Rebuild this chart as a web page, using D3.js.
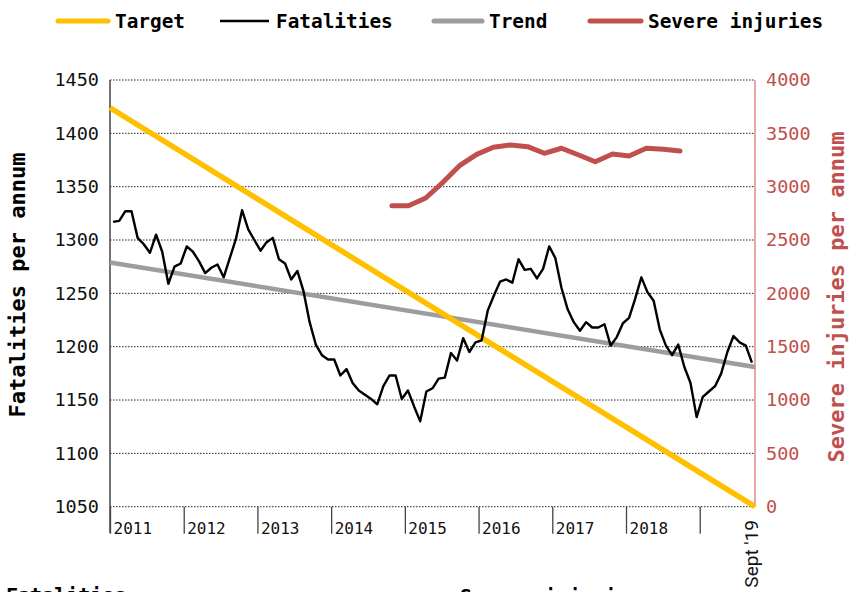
<!DOCTYPE html>
<html lang="en">
<head>
  <meta charset="UTF-8">
  <title>Fatalities and severe injuries</title>
  <style>
    html, body {
      margin: 0;
      padding: 0;
      background-color: white;
    }
    svg {
      display: block;
      font-family: 'DejaVu Sans Mono', monospace;
    }
  </style>
</head>
<body>
  <svg id="svg" width="850" height="592"></svg>
  <script src="https://d3js.org/d3.v7.min.js"></script>
  <script>
    // monthly fatalities per annum, Jan 2011 .. Sept 2019
    const fatalities = [
      1317, 1318, 1327, 1327, 1302, 1296, 1288, 1305, 1289, 1259, 1275, 1278,
      1294, 1289, 1280, 1269, 1274, 1277, 1265, 1283, 1301, 1328, 1310, 1300,
      1290, 1298, 1302, 1282, 1278, 1263, 1271, 1252, 1223, 1202, 1192, 1188,
      1188, 1173, 1179, 1166, 1159, 1155, 1151, 1146, 1163, 1173, 1173, 1151,
      1159, 1144, 1130, 1158, 1161, 1170, 1171, 1194, 1187, 1208, 1195, 1204,
      1206, 1234, 1248, 1261, 1263, 1260, 1282, 1272, 1273, 1264, 1273, 1294,
      1283, 1255, 1235, 1223, 1215, 1223, 1218, 1218, 1221, 1201, 1209, 1222,
      1227, 1245, 1265, 1251, 1243, 1216, 1201, 1192, 1202, 1181, 1166, 1134,
      1153, 1158, 1163, 1175, 1195, 1210, 1204, 1201, 1185
    ]
    // severe injuries (position in months since Jan 2011, value)
    const injuryMonths = [45.9, 48.6, 51.4, 54.2, 56.9, 59.7, 62.4, 65.2, 68.0,
      70.7, 73.5, 76.3, 79.0, 81.8, 84.5, 87.3, 90.1, 92.8]
    const injuries = [2822, 2822, 2894, 3041, 3197, 3303, 3369, 3391, 3375,
      3313, 3360, 3297, 3234, 3306, 3288, 3360, 3350, 3334]
    const targetMonths = [0, 105]
    const target = [1424, 1050]
    const trendMonths = [0, 105]
    const trend = [1279, 1181]

    const years = ['2011', '2012', '2013', '2014', '2015', '2016', '2017', '2018', '']
    const leftTicks = [1050, 1100, 1150, 1200, 1250, 1300, 1350, 1400, 1450]
    const rightTicks = [0, 500, 1000, 1500, 2000, 2500, 3000, 3500, 4000]
    const legendItems = ['Target', 'Fatalities', 'Trend', 'Severe injuries']
    const colors = ['#ffc000', '#000000', '#9d9da1', '#c0504d']

    const plotLeft = 110, plotRight = 755, plotTop = 80, plotBottom = 506.7

    const xScale = d3.scaleLinear().domain([0, 105]).range([plotLeft, plotRight])
    const yLeft = d3.scaleLinear().domain([1050, 1450]).range([plotBottom, plotTop])
    const yRight = d3.scaleLinear().domain([0, 4000]).range([plotBottom, plotTop])

    const svg = d3.select('#svg')

    // dotted gridlines
    svg.append('g')
      .selectAll('line')
      .data(leftTicks)
      .enter()
      .append('line')
      .attr('x1', plotLeft)
      .attr('x2', plotRight)
      .attr('y1', d => yLeft(d))
      .attr('y2', d => yLeft(d))
      .attr('stroke', '#222')
      .attr('stroke-width', 1)
      .attr('stroke-dasharray', '1.5,1.5')

    // left axis
    const leftAxis = svg.append('g')
      .attr('transform', `translate(${plotLeft}, 0)`)
      .call(d3.axisLeft(yLeft).tickValues(leftTicks).tickFormat(d3.format('d'))
        .tickSize(0).tickPadding(11))
    leftAxis.select('.domain').remove()
    leftAxis.selectAll('text')
      .style('font-family', 'DejaVu Sans Mono')
      .style('font-size', '18.5px')
      .attr('fill', '#111')
    svg.append('line')
      .attr('x1', plotLeft).attr('x2', plotLeft)
      .attr('y1', plotTop).attr('y2', 533)
      .attr('stroke', '#444')
      .attr('stroke-width', 1.5)

    // right axis
    const rightAxis = svg.append('g')
      .attr('transform', `translate(${plotRight}, 0)`)
      .call(d3.axisRight(yRight).tickValues(rightTicks).tickFormat(d3.format('d'))
        .tickSize(0).tickPadding(11))
    rightAxis.select('.domain').remove()
    rightAxis.selectAll('text')
      .style('font-family', 'DejaVu Sans Mono')
      .style('font-size', '18.5px')
      .attr('fill', '#c0504d')
    svg.append('line')
      .attr('x1', plotRight).attr('x2', plotRight)
      .attr('y1', plotTop).attr('y2', plotBottom)
      .attr('stroke', '#e0898a')
      .attr('stroke-width', 1.5)

    // bottom axis, year ticks
    const bottomAxis = svg.append('g')
      .attr('transform', `translate(0, ${plotBottom})`)
      .call(d3.axisBottom(xScale)
        .tickValues(years.map((d, i) => i * 12))
        .tickFormat((d, i) => years[i])
        .tickSize(27))
    bottomAxis.select('.domain').remove()
    bottomAxis.selectAll('line')
      .attr('stroke', '#444')
      .attr('stroke-width', 1.3)
    bottomAxis.selectAll('text')
      .attr('text-anchor', 'start')
      .attr('x', 3)
      .attr('y', 27)
      .attr('dy', 0)
      .style('font-family', 'DejaVu Sans Mono')
      .style('font-size', '16px')
      .attr('fill', '#111')

    svg.append('text')
      .attr('transform', `translate(${xScale(105) + 3}, 520) rotate(-90)`)
      .attr('text-anchor', 'end')
      .style('font-family', 'Roboto')
      .style('font-size', '19px')
      .attr('fill', '#111')
      .text("Sept '19")

    // series
    const line = d3.line()
      .x(d => xScale(d[0]))

    svg.append('path')
      .datum(d3.zip(trendMonths, trend))
      .attr('d', line.y(d => yLeft(d[1])))
      .attr('fill', 'none')
      .attr('stroke', colors[2])
      .attr('stroke-width', 4.5)

    svg.append('path')
      .datum(d3.zip(targetMonths, target))
      .attr('d', line.y(d => yLeft(d[1])))
      .attr('fill', 'none')
      .attr('stroke', colors[0])
      .attr('stroke-width', 5.5)

    svg.append('path')
      .datum(fatalities.map((v, i) => [i + 0.5, v]))
      .attr('d', line.y(d => yLeft(d[1])))
      .attr('fill', 'none')
      .attr('stroke', colors[1])
      .attr('stroke-width', 2.4)
      .attr('stroke-linejoin', 'round')

    svg.append('path')
      .datum(d3.zip(injuryMonths, injuries))
      .attr('d', line.y(d => yRight(d[1])))
      .attr('fill', 'none')
      .attr('stroke', colors[3])
      .attr('stroke-width', 5)
      .attr('stroke-linejoin', 'round')
      .attr('stroke-linecap', 'round')

    // legend
    const legendX = [58, 220, 434, 590]
    const legendW = [50, 49, 48, 51]
    const legend = svg.append('g')
      .selectAll('g')
      .data(legendItems)
      .enter()
      .append('g')
      .attr('transform', (d, i) => `translate(${legendX[i]}, 21)`)
    legend.append('line')
      .attr('x1', 0)
      .attr('x2', (d, i) => legendW[i])
      .attr('stroke', (d, i) => colors[i])
      .attr('stroke-width', (d, i) => i === 1 ? 2.6 : 5)
      .attr('stroke-linecap', (d, i) => i === 1 ? 'butt' : 'round')
    legend.append('text')
      .attr('x', (d, i) => legendW[i] + 7)
      .attr('y', 7)
      .style('font-size', '19.4px')
      .style('font-weight', 'bold')
      .attr('fill', '#000')
      .text(d => d)

    // axis titles
    svg.append('text')
      .attr('transform', 'translate(25, 285) rotate(-90)')
      .attr('text-anchor', 'middle')
      .style('font-size', '22px')
      .style('font-weight', 'bold')
      .attr('fill', '#000')
      .text('Fatalities per annum')
    svg.append('text')
      .attr('transform', 'translate(844, 297) rotate(-90)')
      .attr('text-anchor', 'middle')
      .style('font-size', '22px')
      .style('font-weight', 'bold')
      .attr('fill', '#c0504d')
      .text('Severe injuries per annum')

    // headings below the chart (cut off by the frame, as in the source)
    svg.append('text')
      .attr('x', 6)
      .attr('y', 602)
      .style('font-size', '20px')
      .style('font-weight', 'bold')
      .attr('fill', '#000')
      .text('Fatalities')
    svg.append('text')
      .attr('x', 460)
      .attr('y', 603)
      .style('font-size', '20px')
      .style('font-weight', 'bold')
      .attr('fill', '#000')
      .text('Severe injuries')
  </script>
</body>
</html>
